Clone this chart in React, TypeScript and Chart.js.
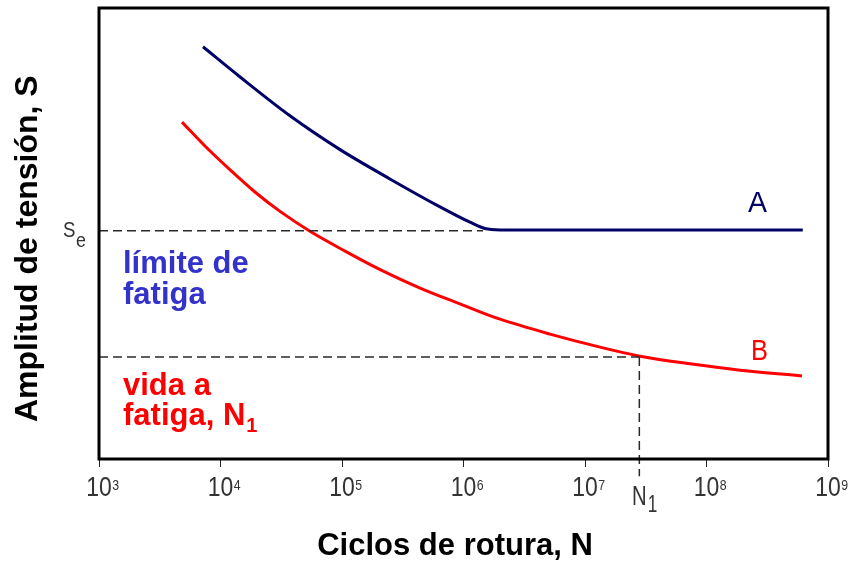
import React, { useEffect, useRef } from "react";
import { Chart, registerables } from "chart.js";

Chart.register(...registerables);

// ---- axis definition ----
const TICK_EXPONENTS = [3, 4, 5, 6, 7, 8, 9];
const TICK_BASE = "10";
const X_MIN = 1e3;
const X_MAX = 1e9;
const Y_MIN = 0;
const Y_MAX = 100;

// ---- curve A (with fatigue limit) ----
const CURVE_A_N = [7.18e3, 1.45e4, 3.73e4, 9.64e4, 2.48e5, 6.41e5, 1.13e6, 1.5e6, 2.0e6, 6.2e8];
const CURVE_A_S = [91.4, 84.7, 76.1, 68.6, 62.1, 55.9, 52.5, 51.1, 50.8, 50.8];

// ---- curve B (no fatigue limit) ----
const CURVE_B_N = [4.82e3, 7.45e3, 1.2e4, 1.92e4, 3.09e4, 5.45e4, 1.06e5, 2.06e5, 4.39e5, 9.36e5, 2.0e6, 5.15e6, 1.33e7, 2.84e7, 7.31e7, 1.89e8, 6.11e8];
const CURVE_B_S = [74.7, 69.4, 64.1, 59.2, 54.9, 50.5, 46.1, 42.0, 37.9, 34.4, 31.0, 27.7, 24.8, 22.8, 21.1, 19.7, 18.4];

// ---- reference lines ----
const SE_VALUE = 50.6;
const SE_END_N = 1.45e6;
const N1_VALUE = 2.8e7;
const S_AT_N1 = 22.6;
const N1_DROP_TO = -3.8;

// ---- texts ----
const Y_TITLE = "Amplitud de tensión, S";
const X_TITLE = "Ciclos de rotura, N";
const LABEL_A = "A";
const LABEL_B = "B";
const SE_MAIN = "S";
const SE_SUB = "e";
const N1_MAIN = "N";
const N1_SUB = "1";
const BLUE_LINES = ["límite de", "fatiga"];
const RED_LINES = ["vida a", "fatiga, N"];
const RED_SUB = "1";

const NAVY = "#000066";
const RED = "#ff0000";
const BLUE_TXT = "#3333cc";
const DASH_COLOR = "#2a2a2a";

function toPoints(xs: number[], ys: number[]) {
  return xs.map((x, i) => ({ x, y: ys[i] }));
}

function drawText(
  ctx: CanvasRenderingContext2D,
  text: string,
  x: number,
  y: number,
  font: string,
  color: string,
  align: CanvasTextAlign = "left",
  sx = 1
) {
  ctx.save();
  ctx.translate(x, y);
  ctx.scale(sx, 1);
  ctx.font = font;
  ctx.fillStyle = color;
  ctx.textAlign = align;
  ctx.textBaseline = "alphabetic";
  ctx.fillText(text, 0, 0);
  ctx.restore();
}

function textWidth(ctx: CanvasRenderingContext2D, text: string, font: string, sx = 1) {
  ctx.save();
  ctx.font = font;
  const w = ctx.measureText(text).width * sx;
  ctx.restore();
  return w;
}

const THIN = '"Liberation Sans", Arial, sans-serif';
const BOLD = 'bold 31px "Liberation Sans", Arial, sans-serif';
const NARROW = 0.82;

const overlayPlugin = {
  id: "overlay",
  afterDraw(chart: any) {
    const ctx: CanvasRenderingContext2D = chart.ctx;
    const { left, right, top, bottom } = chart.chartArea;
    const xs = chart.scales.x;
    const ys = chart.scales.y;
    ctx.save();

    // plot frame
    ctx.strokeStyle = "#000";
    ctx.lineWidth = 3;
    ctx.strokeRect(left, top, right - left, bottom - top);

    // x tick labels 10^n
    const baseFont = `28px ${THIN}`;
    const supFont = `15px ${THIN}`;
    xs.ticks.forEach((t: any, i: number) => {
      const px = xs.getPixelForValue(t.value);
      const w = textWidth(ctx, TICK_BASE, baseFont, NARROW);
      drawText(ctx, TICK_BASE, px, bottom + 37, baseFont, "#333", "center", NARROW);
      drawText(ctx, String(TICK_EXPONENTS[i]), px + w / 2 + 0.5, bottom + 31, supFont, "#333", "left", NARROW);
    });

    // N1 label under axis
    const n1x = xs.getPixelForValue(N1_VALUE);
    const nFont = `27px ${THIN}`;
    const wN = textWidth(ctx, N1_MAIN, nFont, 0.75);
    drawText(ctx, N1_MAIN, n1x, bottom + 46, nFont, "#333", "center", 0.75);
    drawText(ctx, N1_SUB, n1x + wN / 2 + 1, bottom + 53, `23px ${THIN}`, "#333", "left", 0.75);

    // Se label left of axis
    const seY = ys.getPixelForValue(SE_VALUE);
    const sFont = `22px ${THIN}`;
    drawText(ctx, SE_MAIN, 63, seY + 6, sFont, "#333", "left", 0.85);
    drawText(ctx, SE_SUB, 76, seY + 16, `21px ${THIN}`, "#333", "left", 0.85);

    // curve labels
    drawText(ctx, LABEL_A, 748, 212, `30px ${THIN}`, NAVY, "left", 0.95);
    drawText(ctx, LABEL_B, 751, 360, `30px ${THIN}`, RED, "left", 0.85);

    // annotation texts
    drawText(ctx, BLUE_LINES[0], 123, 273, BOLD, BLUE_TXT);
    drawText(ctx, BLUE_LINES[1], 123, 304, BOLD, BLUE_TXT);
    drawText(ctx, RED_LINES[0], 123, 395, BOLD, RED);
    drawText(ctx, RED_LINES[1], 123, 425, BOLD, RED);
    const wr = textWidth(ctx, RED_LINES[1], BOLD);
    drawText(ctx, RED_SUB, 123 + wr + 1, 432, 'bold 20px "Liberation Sans", Arial, sans-serif', RED);

    // axis titles
    drawText(ctx, X_TITLE, 455, 555, BOLD, "#000", "center");
    ctx.save();
    ctx.translate(37, 422);
    ctx.rotate(-Math.PI / 2);
    ctx.font = 'bold 32px "Liberation Sans", Arial, sans-serif';
    ctx.fillStyle = "#000";
    ctx.textAlign = "left";
    ctx.textBaseline = "alphabetic";
    ctx.fillText(Y_TITLE, 0, 0);
    ctx.restore();

    ctx.restore();
  },
};

export default function App() {
  const ref = useRef<HTMLCanvasElement>(null);

  useEffect(() => {
    if (!ref.current) return;
    const dashed = {
      borderColor: DASH_COLOR,
      borderWidth: 1.5,
      borderDash: [9, 5],
      pointRadius: 0,
      showLine: true,
      fill: false,
      tension: 0,
    };
    const chart = new Chart(ref.current, {
      type: "scatter",
      data: {
        datasets: [
          {
            ...dashed,
            label: "Se",
            data: [
              { x: X_MIN, y: SE_VALUE },
              { x: SE_END_N, y: SE_VALUE },
            ],
          },
          {
            ...dashed,
            label: "N1 h",
            data: [
              { x: X_MIN, y: S_AT_N1 },
              { x: N1_VALUE, y: S_AT_N1 },
            ],
          },
          {
            ...dashed,
            label: "N1 v",
            clip: false,
            data: [
              { x: N1_VALUE, y: S_AT_N1 },
              { x: N1_VALUE, y: N1_DROP_TO },
            ],
          },
          {
            label: "A",
            data: toPoints(CURVE_A_N, CURVE_A_S),
            borderColor: NAVY,
            borderWidth: 3,
            pointRadius: 0,
            showLine: true,
            cubicInterpolationMode: "monotone",
          },
          {
            label: "B",
            data: toPoints(CURVE_B_N, CURVE_B_S),
            borderColor: RED,
            borderWidth: 3,
            pointRadius: 0,
            showLine: true,
            tension: 0.35,
          },
        ] as any,
      },
      options: {
        animation: false,
        responsive: false,
        maintainAspectRatio: false,
        layout: { padding: { left: 99, right: 21, top: 8, bottom: 0 } },
        plugins: {
          legend: { display: false },
          tooltip: { enabled: false },
        },
        scales: {
          x: {
            type: "logarithmic",
            min: X_MIN,
            max: X_MAX,
            position: "bottom",
            afterBuildTicks: (s: any) => {
              s.ticks = TICK_EXPONENTS.map((e) => ({ value: Math.pow(10, e) }));
            },
            afterFit: (s: any) => {
              s.height = 102;
            },
            ticks: { display: false },
            grid: {
              display: true,
              drawOnChartArea: false,
              drawTicks: true,
              tickLength: 8,
              color: "#222",
              lineWidth: 1,
            },
            border: { display: false },
          },
          y: {
            type: "linear",
            min: Y_MIN,
            max: Y_MAX,
            display: false,
          },
        },
      } as any,
      plugins: [overlayPlugin],
    });
    return () => chart.destroy();
  }, []);

  return (
    <div style={{ position: "fixed", left: 0, top: 0, width: 849, height: 561, background: "#fff" }}>
      <canvas ref={ref} width={849} height={561} style={{ display: "block", width: 849, height: 561 }} />
    </div>
  );
}
